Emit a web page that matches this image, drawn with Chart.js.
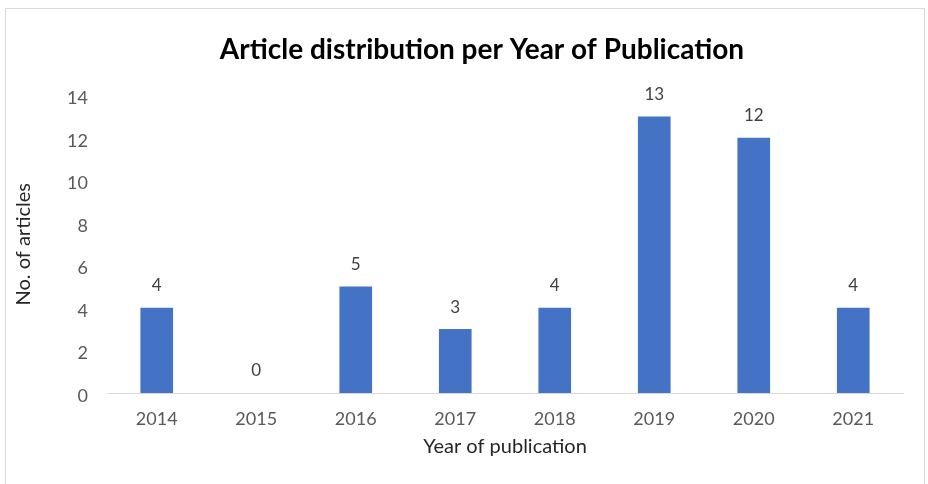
<!DOCTYPE html>
<html>
<head>
<meta charset="utf-8">
<script src="https://cdn.jsdelivr.net/npm/chart.js@4.4.1/dist/chart.umd.min.js"></script>
<style>
  html, body { margin: 0; padding: 0; background: #fff; }
  #wrap { position: relative; width: 928px; height: 484px; overflow: hidden; }
  #frame {
    position: absolute; left: 5px; top: 8px; width: 920px; height: 500px;
    border: 1px solid #d9d9d9; box-sizing: border-box;
  }
  canvas { position: absolute; left: 0; top: 0; }
</style>
</head>
<body>
<div id="wrap">
  <div id="frame"></div>
  <canvas id="articleChart" width="928" height="484"></canvas>
</div>
<script>
// data
const years = ["2014", "2015", "2016", "2017", "2018", "2019", "2020", "2021"];
const articleCounts = [4, 0, 5, 3, 4, 13, 12, 4];
const yTicks = [0, 2, 4, 6, 8, 10, 12, 14];

const chartTitle = "Article distribution per Year of Publication";
const FONT = "Lato, 'Noto Sans', sans-serif";

// title drawn above the plot, centred like in the original
const titlePlugin = {
  id: "excelTitle",
  afterDraw(chart) {
    const ctx = chart.ctx;
    ctx.save();
    ctx.fillStyle = "#000";
    ctx.textAlign = "center";
    ctx.textBaseline = "middle";
    ctx.font = "bold 28px " + FONT;
    ctx.fillText(chartTitle, 482, 50);
    ctx.restore();
  },
};

// value labels on top of each bar
const valueLabels = {
  id: "valueLabels",
  afterDatasetsDraw(chart) {
    const ctx = chart.ctx;
    const meta = chart.getDatasetMeta(0);
    ctx.save();
    ctx.fillStyle = "#404040";
    ctx.textAlign = "center";
    ctx.textBaseline = "middle";
    ctx.font = "17px " + FONT;
    meta.data.forEach((bar, i) => {
      ctx.fillText(String(articleCounts[i]), bar.x, bar.y - 22);
    });
    ctx.restore();
  },
};

const ctx = document.getElementById("articleChart").getContext("2d");
new Chart(ctx, {
  type: "bar",
  data: {
    labels: years,
    datasets: [
      {
        label: "No. of articles",
        data: articleCounts,
        // a zero bar leaves no sliver
        backgroundColor: (c) => (c.raw === 0 ? "rgba(0,0,0,0)" : "#4472C4"),
        borderWidth: 0,
        barThickness: 32,
      },
    ],
  },
  options: {
    responsive: false,
    animation: false,
    events: [],
    layout: {
      padding: { left: 0, right: 25, top: 95.5, bottom: 21 },
    },
    plugins: {
      legend: { display: false },
      title: { display: false },
      tooltip: { enabled: false },
    },
    scales: {
      x: {
        grid: { display: false, drawTicks: false },
        border: { display: true, color: "#d9d9d9", width: 1 },
        ticks: {
          color: "#595959",
          font: { family: FONT, size: 18 },
          padding: 15,
          maxRotation: 0,
        },
        title: {
          display: true,
          text: "Year of publication",
          color: "#262626",
          font: { family: FONT, size: 20 },
          padding: { top: 0, bottom: 4 },
        },
        afterFit(scale) {
          scale.height = 70;
        },
      },
      y: {
        min: 0,
        max: 14,
        afterBuildTicks(scale) {
          scale.ticks = yTicks.map((v) => ({ value: v }));
        },
        grid: { display: false, drawTicks: false },
        border: { display: false },
        ticks: {
          color: "#595959",
          font: { family: FONT, size: 18 },
          padding: 19,
          labelOffset: 3,
        },
        title: {
          display: true,
          text: "No. of articles",
          color: "#262626",
          font: { family: FONT, size: 20 },
          padding: { top: 12, bottom: 0 },
        },
        afterFit(scale) {
          scale.width = 107;
        },
      },
    },
  },
  plugins: [titlePlugin, valueLabels],
});
</script>
</body>
</html>
